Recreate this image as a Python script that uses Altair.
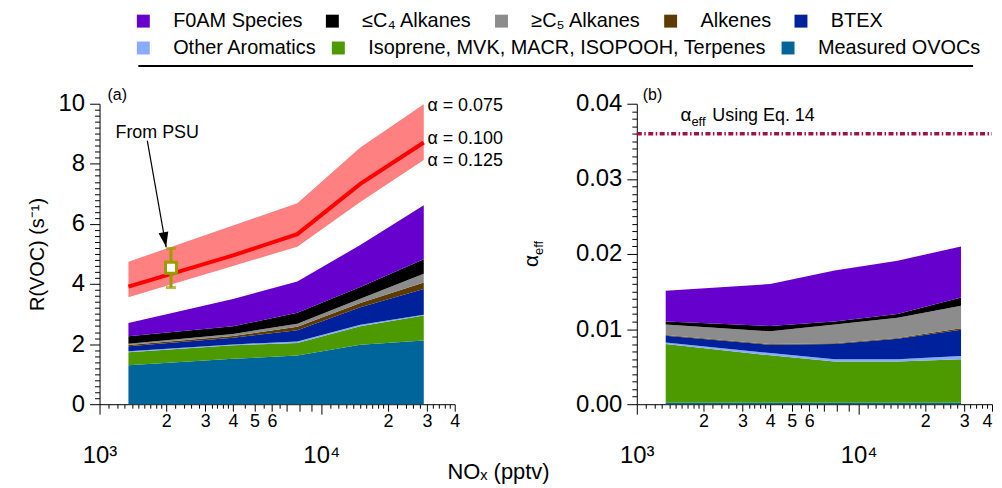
import altair as alt
import pandas as pd

FONT = "Liberation Sans"

# ---------------- data ----------------
NOX = [1350, 4000, 7800, 15000, 29000]

ROW1 = ["F0AM Species", "≤C₄ Alkanes", "≥C₅ Alkanes", "Alkenes", "BTEX"]
ROW1_COLORS = ["#6600CC", "#000000", "#8C8C8C", "#5C3A00", "#00219C"]
ROW2 = ["Other Aromatics", "Isoprene, MVK, MACR, ISOPOOH, Terpenes", "Measured OVOCs"]
ROW2_COLORS = ["#88AAFF", "#4C9900", "#00659A"]
LEGEND_ORDER = ROW1 + ROW2
STACK_ORDER = LEGEND_ORDER[::-1]

# panel (a): contributions to R(VOC), s^-1
R_OVOC = [1.30, 1.51, 1.62, 1.98, 2.12]
R_ISOP = [0.43, 0.45, 0.42, 0.61, 0.83]
R_OARO = [0.03, 0.03, 0.05, 0.05, 0.03]
R_BTEX = [0.17, 0.22, 0.37, 0.59, 0.85]
R_ALKE = [0.04, 0.06, 0.12, 0.14, 0.22]
R_C5 = [0.04, 0.07, 0.10, 0.14, 0.29]
R_C4 = [0.25, 0.25, 0.36, 0.39, 0.48]
R_F0AM = [0.44, 0.91, 1.04, 1.40, 1.80]

R_ALPHA_100 = [3.91, 4.95, 5.66, 7.33, 8.71]
R_ALPHA_075 = [4.74, 5.95, 6.69, 8.54, 9.98]
R_ALPHA_125 = [3.56, 4.60, 5.24, 6.73, 8.13]
ALPHA_LABELS = ["α = 0.075", "α = 0.100", "α = 0.125"]
ALPHA_LABEL_NOX = [29800, 29800, 29800]
ALPHA_LABEL_R = [9.93, 8.84, 8.08]

PSU_NOX = [2100]
PSU_R = [4.54]
PSU_R_LO = [3.88]
PSU_R_HI = [5.18]
PSU_LABEL = ["From PSU"]
PSU_LABEL_NOX = [1180]
PSU_LABEL_R = [8.87]
ARROW_NOX = [1642, 1997]
ARROW_R = [8.77, 5.23]

# panel (b): contributions to alpha_eff
A_OVOC = [0.0002, 0.0002, 0.0002, 0.0002, 0.0002]
A_ISOP = [0.0078, 0.0063, 0.0055, 0.0055, 0.0058]
A_OARO = [0.0002, 0.0003, 0.0003, 0.0003, 0.0004]
A_BTEX = [0.0009, 0.0011, 0.0020, 0.0027, 0.0035]
A_ALKE = [0.0001, 0.0001, 0.0001, 0.0001, 0.0002]
A_C5 = [0.0014, 0.0017, 0.0025, 0.0027, 0.0030]
A_C4 = [0.0004, 0.0007, 0.0004, 0.0005, 0.0011]
A_F0AM = [0.0041, 0.0056, 0.0068, 0.0071, 0.0068]

EQ14_ALPHA = [0.036]
EQ14_NOX = [1000]
EQ14_NOX2 = [40000]
EQ_LABEL_NOX = [1574]
EQ_LABEL_A = [0.03775]

# axis ticks
X_DECADES = [1000, 10000]
X_MANTISSAS = [1, 1.1, 1.2, 1.3, 1.4, 1.5, 1.6, 1.7, 1.8, 1.9, 2, 2.2, 2.4, 2.6, 2.8,
               3, 3.2, 3.4, 3.6, 3.8, 4, 4.5, 5, 5.5, 6, 6.5, 7, 8, 9]
X_TICKS = sorted({int(round(m * d)) for d in X_DECADES for m in X_MANTISSAS if m * d <= 40000})
Y_TICKS_A = [round(i * 0.2, 1) for i in range(51)]
Y_TICKS_B = [round(i * 0.001, 3) for i in range(41)]


def stack_frame(parts):
    rows = []
    base = [0.0] * len(NOX)
    for cat in STACK_ORDER:
        vals = parts[cat]
        for i, x in enumerate(NOX):
            rows.append({"nox": x, "cat": cat, "lo": base[i], "hi": base[i] + vals[i],
                         "row": 1 if cat in ROW1 else 2})
        base = [b + v for b, v in zip(base, vals)]
    return pd.DataFrame(rows)


parts_a = dict(zip(LEGEND_ORDER, [R_F0AM, R_C4, R_C5, R_ALKE, R_BTEX, R_OARO, R_ISOP, R_OVOC]))
parts_b = dict(zip(LEGEND_ORDER, [A_F0AM, A_C4, A_C5, A_ALKE, A_BTEX, A_OARO, A_ISOP, A_OVOC]))
df_a = stack_frame(parts_a)
df_b = stack_frame(parts_b)

df_band = pd.DataFrame({"nox": NOX, "mid": R_ALPHA_100, "hi": R_ALPHA_075, "lo": R_ALPHA_125})
df_alpha_lab = pd.DataFrame({"nox": ALPHA_LABEL_NOX, "r": ALPHA_LABEL_R, "txt": ALPHA_LABELS})
df_psu = pd.DataFrame({"nox": PSU_NOX, "r": PSU_R, "lo": PSU_R_LO, "hi": PSU_R_HI})
df_caps = pd.DataFrame({"nox": PSU_NOX * 2, "r": PSU_R_LO + PSU_R_HI})
df_psu_lab = pd.DataFrame({"nox": PSU_LABEL_NOX, "r": PSU_LABEL_R, "txt": PSU_LABEL})
df_arrow = pd.DataFrame({"nox": ARROW_NOX, "r": ARROW_R})
df_tip = df_arrow.iloc[[1]]
df_eq = pd.DataFrame({"nox": EQ14_NOX, "nox2": EQ14_NOX2, "a": EQ14_ALPHA})
df_eq_lab = pd.DataFrame({"nox": EQ_LABEL_NOX, "a": EQ_LABEL_A})

# ---------------- scales / axes ----------------
XSCALE = alt.Scale(type="log", domain=[1000, 40000], nice=False)
MAJOR = "(datum.value == 1000 || datum.value == 10000)"
MEDIUM = "((datum.value < 10000 && datum.value % 1000 == 0) || datum.value % 10000 == 0)"


def make_xaxis(last_right):
    kw = {}
    if last_right:
        kw["labelAlign"] = {"condition": {"test": "datum.value == 40000", "value": "right"}, "value": "center"}
    return alt.Axis(
        values=X_TICKS, title=None, grid=False, labelOverlap=False, labelFlush=False,
        labelExpr=("datum.value == 1000 ? '10³' : datum.value == 10000 ? '10⁴' : "
                   "indexof([2000,3000,4000,5000,6000,20000,30000,40000], datum.value) >= 0 ? "
                   "format(datum.value / (datum.value < 10000 ? 1000 : 10000), 'd') : ''"),
        tickSize={"condition": [{"test": MAJOR, "value": 10}, {"test": MEDIUM, "value": 7}], "value": 4},
        labelFontSize={"condition": {"test": MAJOR, "value": 24}, "value": 18},
        labelPadding={"condition": {"test": MAJOR, "value": 30}, "value": 1},
        **kw,
    )


XAXIS_A = make_xaxis(False)
XAXIS_B = make_xaxis(True)

YSCALE_A = alt.Scale(domain=[0, 10], nice=False)
YAXIS_A = alt.Axis(
    values=Y_TICKS_A, grid=False, labelOverlap=False,
    labelExpr="datum.value % 2 == 0 ? format(datum.value, '.0f') : ''",
    tickSize={"condition": {"test": "datum.value % 2 == 0", "value": 10}, "value": 5},
    labelFontSize=24, labelPadding=5,
    title="R(VOC) (s⁻¹)", titleFontSize=20, titleFontWeight="normal", titlePadding=11,
)
YSCALE_B = alt.Scale(domain=[0, 0.04], nice=False)
YAXIS_B = alt.Axis(
    values=Y_TICKS_B, grid=False, labelOverlap=False, title=None,
    labelExpr="round(datum.value * 1000) % 10 == 0 ? format(datum.value, '.2f') : ''",
    tickSize={"condition": {"test": "round(datum.value * 1000) % 10 == 0", "value": 10}, "value": 5},
    labelFontSize=24, labelPadding=5,
)


def legend(y, col_pad):
    return alt.Legend(
        title=None, orient="none", legendX=34, legendY=y, direction="horizontal",
        symbolType="square", symbolSize=169, symbolStrokeWidth=0, symbolOpacity=1,
        labelFontSize=20, labelFont=FONT, labelColor="black", labelLimit=700,
        labelOffset=20, columnPadding=col_pad,
    )


COLOR1 = alt.Color("cat:N", scale=alt.Scale(domain=ROW1, range=ROW1_COLORS), legend=legend(-93, 19))
FILL2 = alt.Fill("cat:N", scale=alt.Scale(domain=ROW2, range=ROW2_COLORS), legend=legend(-66, 11))

W, H = 357, 302
OLIVE = "#9C9C00"


def panel_stack(df, X, Y):
    s1 = alt.Chart(df).transform_filter("datum.row == 1").mark_area(interpolate="linear").encode(
        x=X(), y=Y("hi"), y2="lo:Q", color=COLOR1)
    s2 = alt.Chart(df).transform_filter("datum.row == 2").mark_area(interpolate="linear").encode(
        x=X(), y=Y("hi"), y2="lo:Q", fill=FILL2)
    return [s2, s1]


def XA(field="nox"):
    return alt.X(f"{field}:Q", scale=XSCALE, axis=XAXIS_A)


def XB(field="nox"):
    return alt.X(f"{field}:Q", scale=XSCALE, axis=XAXIS_B)


def YA(field):
    return alt.Y(f"{field}:Q", scale=YSCALE_A, axis=YAXIS_A)


def YB(field):
    return alt.Y(f"{field}:Q", scale=YSCALE_B, axis=YAXIS_B)


# ---------------- panel (a) ----------------
band = alt.Chart(df_band).mark_area(color="#FF8080", opacity=1).encode(
    x=XA(), y=YA("hi"), y2="lo:Q")
redline = alt.Chart(df_band).mark_line(color="#FF0000", strokeWidth=4).encode(x=XA(), y=YA("mid"))
alpha_txt = alt.Chart(df_alpha_lab).mark_text(
    align="left", baseline="middle", fontSize=18, font=FONT, color="black", dx=1).encode(
    x=XA(), y=YA("r"), text="txt:N")
arrow = alt.Chart(df_arrow).mark_line(color="black", strokeWidth=1.2).encode(x=XA(), y=YA("r"))
tip = alt.Chart(df_tip).mark_point(
    shape="M-0.33,-1L0.33,-1L0,0Z", size=900, filled=True, color="black", opacity=1, angle=349.5
).encode(x=XA(), y=YA("r"))
psu_bar = alt.Chart(df_psu).mark_rule(color=OLIVE, strokeWidth=3).encode(x=XA(), y=YA("lo"), y2="hi:Q")
psu_caps = alt.Chart(df_caps).mark_tick(color=OLIVE, orient="horizontal", size=10, thickness=3).encode(
    x=XA(), y=YA("r"))
psu_pt = alt.Chart(df_psu).mark_point(
    shape="square", size=121, filled=True, fill="white", stroke=OLIVE, strokeWidth=3, opacity=1
).encode(x=XA(), y=YA("r"))
psu_txt = alt.Chart(df_psu_lab).mark_text(
    align="left", baseline="alphabetic", fontSize=18, font=FONT, color="black").encode(
    x=XA(), y=YA("r"), text="txt:N")
lab_a = alt.Chart(df_psu_lab).mark_text(
    text="(a)", align="left", baseline="middle", fontSize=16, font=FONT, color="black").encode(
    x=alt.value(8), y=alt.value(-9))
underline = alt.Chart(df_psu_lab).mark_rule(color="black", strokeWidth=2).encode(
    x=alt.value(39), x2=alt.value(878), y=alt.value(-38))
xtitle = alt.Chart(df_psu_lab).mark_text(
    text="NOₓ (pptv)", align="center", baseline="middle", fontSize=22, font=FONT, color="black").encode(
    x=alt.value(401), y=alt.value(370))

left = alt.layer(*panel_stack(df_a, XA, YA), band, redline, alpha_txt, arrow, tip, psu_bar, psu_caps,
                 psu_pt, psu_txt, lab_a, underline, xtitle).properties(width=W, height=H)

# ---------------- panel (b) ----------------
eqline = alt.Chart(df_eq).mark_rule(color="#A0104A", strokeWidth=3.5, strokeDash=[5, 2.5, 1.5, 2.5]).encode(
    x=XB(), x2="nox2:Q", y=YB("a"))
eq_a = alt.Chart(df_eq_lab).mark_text(
    text="α", align="left", baseline="alphabetic", fontSize=19, font=FONT, color="black").encode(
    x=XB(), y=YB("a"))
eq_eff = alt.Chart(df_eq_lab).mark_text(
    text="eff", align="left", baseline="alphabetic", fontSize=13, font=FONT, color="black", dx=11, dy=5).encode(
    x=XB(), y=YB("a"))
eq_rest = alt.Chart(df_eq_lab).mark_text(
    text="Using Eq. 14", align="left", baseline="alphabetic", fontSize=18, font=FONT, color="black", dx=32).encode(
    x=XB(), y=YB("a"))
lab_b = alt.Chart(df_eq_lab).mark_text(
    text="(b)", align="left", baseline="middle", fontSize=16, font=FONT, color="black").encode(
    x=alt.value(6), y=alt.value(-9))
ytitle_a = alt.Chart(df_eq_lab).mark_text(
    text="α", align="center", baseline="middle", fontSize=21, font=FONT, color="black", angle=270).encode(
    x=alt.value(-105), y=alt.value(158))
ytitle_eff = alt.Chart(df_eq_lab).mark_text(
    text="eff", align="center", baseline="middle", fontSize=13, font=FONT, color="black", angle=270).encode(
    x=alt.value(-98), y=alt.value(145))

right = alt.layer(*panel_stack(df_b, XB, YB), eqline, eq_a, eq_eff, eq_rest, lab_b, ytitle_a,
                  ytitle_eff).properties(width=W, height=H)

chart = alt.hconcat(left, right, spacing=183, bounds="flush").properties(
    padding={"left": 19, "top": 2, "right": 0, "bottom": 0}
).configure_view(stroke=None).configure_axis(
    labelFont=FONT, titleFont=FONT, labelColor="black", titleColor="black",
    domainColor="black", tickColor="black", domainWidth=1, tickWidth=1, grid=False,
).configure_text(font=FONT)

chart.save("out.html", embed_options={"renderer": "svg", "actions": False})
